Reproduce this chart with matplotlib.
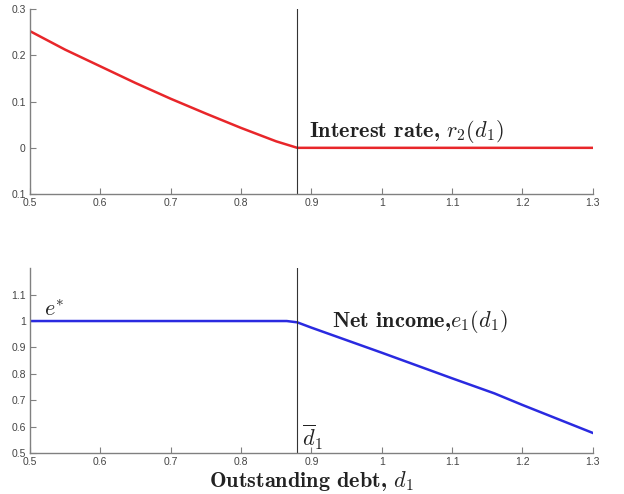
import matplotlib.pyplot as plt

# data
debt_r = [0.5, 0.55, 0.6, 0.65, 0.7, 0.75, 0.8, 0.85, 0.88, 1.3]
rate = [0.252, 0.212, 0.176, 0.14, 0.106, 0.074, 0.043, 0.014, 0.0, 0.0]

debt_e = [0.5, 0.865, 0.88, 0.9, 1.0, 1.1, 1.16, 1.2, 1.3]
income = [1.0, 1.0, 0.995, 0.975, 0.88, 0.783, 0.726, 0.682, 0.576]

d_bar = 0.88

x_ticks = [0.5, 0.6, 0.7, 0.8, 0.9, 1.0, 1.1, 1.2, 1.3]
x_labels = ["0.5", "0.6", "0.7", "0.8", "0.9", "1", "1.1", "1.2", "1.3"]
r_ticks = [0.3, 0.2, 0.1, 0.0, -0.1]
r_labels = ["0.3", "0.2", "0.1", "0", "0.1"]
e_ticks = [0.5, 0.6, 0.7, 0.8, 0.9, 1.0, 1.1]
e_labels = ["0.5", "0.6", "0.7", "0.8", "0.9", "1", "1.1"]

plt.rcParams['mathtext.fontset'] = 'cm'
plt.rcParams['font.family'] = ['Liberation Sans', 'DejaVu Sans']

fig = plt.figure(figsize=(6.24, 4.94), dpi=100)
ax1 = fig.add_axes([0.048, 0.607, 0.902, 0.375])
ax2 = fig.add_axes([0.048, 0.083, 0.902, 0.374])

def style(ax):
  for side in ['top', 'right']:
    ax.spines[side].set_visible(False)
  for side in ['left', 'bottom']:
    ax.spines[side].set_color('#808080')
    ax.spines[side].set_linewidth(1.0)
  ax.tick_params(direction='in', length=4, color='#808080', labelsize=7.5,
                 labelcolor='#444444', pad=3)
  ax.set_xlim(0.5, 1.3)
  ax.set_xticks(x_ticks)
  ax.set_xticklabels(x_labels)

style(ax1)
ax1.plot(debt_r, rate, color='#e8262a', lw=1.8)
ax1.axvline(d_bar, color='#333333', lw=0.8)
ax1.set_ylim(-0.1, 0.3)
ax1.set_yticks(r_ticks)
ax1.set_yticklabels(r_labels)
ax1.text(0.897, 0.007, r"Interest rate, $r_2(d_1)$", fontsize=16,
         family='cmb10', va='bottom', ha='left', color='#222222')

style(ax2)
ax2.plot(debt_e, income, color='#2a2ae0', lw=1.8)
ax2.axvline(d_bar, color='#333333', lw=0.8)
ax2.set_ylim(0.5, 1.2)
ax2.set_yticks(e_ticks)
ax2.set_yticklabels(e_labels)
ax2.text(0.929, 1.0, r"Net income,$e_1(d_1)$", fontsize=16,
         family='cmb10', va='center', ha='left', color='#222222')
ax2.text(0.52, 1.04, r"$e^{*}$", fontsize=16, va='center', ha='left',
         color='#222222')
ax2.text(0.886, 0.56, r"$\overline{d}_1$", fontsize=16, va='center',
         ha='left', color='#222222')
ax2.set_xlabel(r"Outstanding debt, $d_1$", fontsize=16, family='cmb10',
               color='#222222', labelpad=1)

fig.savefig("out.png", dpi=100)
